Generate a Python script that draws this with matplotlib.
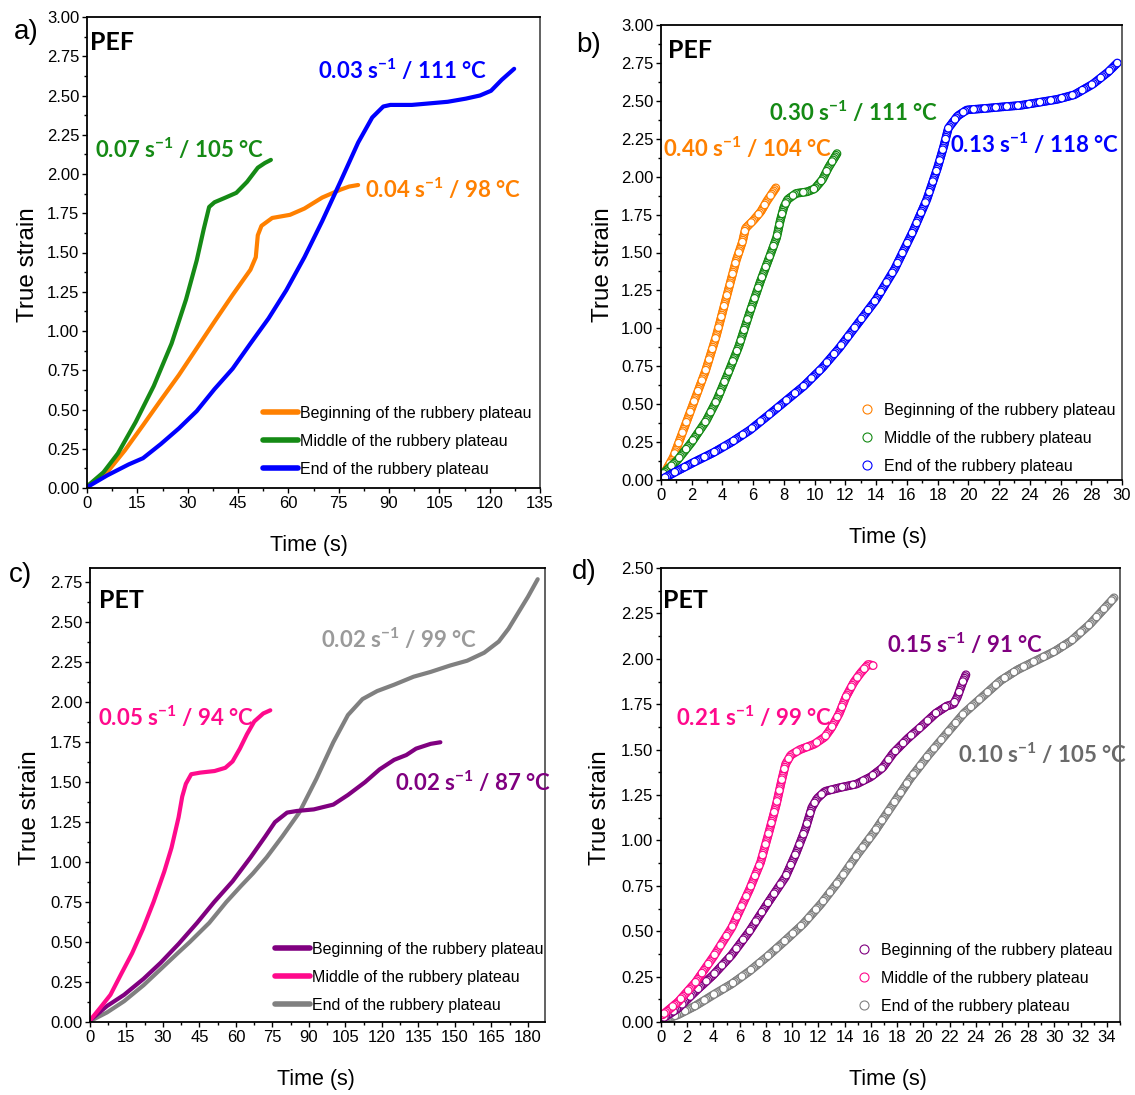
import matplotlib
matplotlib.use("Agg")
import matplotlib.pyplot as plt
from matplotlib.lines import Line2D
from matplotlib.ticker import MultipleLocator, FormatStrFormatter

plt.rcParams['lines.scale_dashes'] = False
plt.rcParams['mathtext.default'] = 'regular'

# ---------------- data ----------------
# a) PEF, continuous lines
a_beg_t = [0, 6, 11.3, 16.7, 22, 27.4, 32.7, 38, 43.4, 48.7, 50.3, 50.9, 52, 55.2, 60.5, 64.8, 70.1, 75.5, 78.1, 80.8]
a_beg_y = [0.01, 0.10, 0.24, 0.40, 0.56, 0.72, 0.89, 1.06, 1.23, 1.39, 1.47, 1.61, 1.67, 1.72, 1.74, 1.78, 1.85, 1.90, 1.92, 1.93]
a_mid_t = [0, 4.9, 9.2, 14.5, 19.9, 25.2, 29.5, 32.7, 34.8, 36.4, 38, 41.3, 44.5, 47.7, 50.9, 53, 54.8]
a_mid_y = [0.01, 0.10, 0.22, 0.42, 0.65, 0.92, 1.20, 1.45, 1.65, 1.79, 1.82, 1.85, 1.88, 1.95, 2.04, 2.07, 2.09]
a_end_t = [0, 6, 12.4, 16.7, 22, 27.4, 32.7, 38, 43.4, 48.7, 54.1, 59.4, 64.8, 70.1, 75.5, 80.8, 85,
           88.3, 90.4, 96.8, 102.2, 107.5, 112.9, 117.1, 120.4, 123.6, 127.3]
a_end_y = [0.005, 0.08, 0.15, 0.19, 0.28, 0.38, 0.49, 0.63, 0.76, 0.92, 1.08, 1.26, 1.47, 1.70, 1.95, 2.20, 2.36,
           2.43, 2.44, 2.44, 2.45, 2.46, 2.48, 2.50, 2.53, 2.60, 2.67]

# b) PEF, open circles
b_beg_t = [0.16, 0.8, 1.5, 2.2, 2.9, 3.6, 4.35, 4.9, 5.3, 5.5, 6.0, 6.5, 6.9, 7.5]
b_beg_y = [0.035, 0.15, 0.34, 0.53, 0.72, 0.95, 1.24, 1.45, 1.57, 1.66, 1.71, 1.77, 1.84, 1.93]
b_mid_t = [0.07, 1.06, 2.0, 2.94, 3.65, 4.35, 5.06, 5.76, 6.47, 7.06, 7.53, 7.76, 8.0, 8.24, 8.8, 9.5, 10.0, 10.5, 10.9, 11.5]
b_mid_y = [0.035, 0.13, 0.25, 0.39, 0.53, 0.70, 0.88, 1.10, 1.31, 1.47, 1.60, 1.71, 1.80, 1.85, 1.89, 1.90, 1.92, 1.98, 2.06, 2.16]
b_end_t = [0.16, 1.06, 2.2, 3.4, 4.6, 5.8, 6.9, 8.1, 9.3, 10.5, 11.6, 12.8, 14.0, 15.2, 16.4, 17.3, 18.0, 18.4,
           18.7, 19.3, 19.9, 21.1, 22.2, 23.4, 24.6, 25.8, 26.9, 28.1, 29.1, 29.7]
b_end_y = [0.01, 0.06, 0.12, 0.18, 0.25, 0.33, 0.42, 0.52, 0.62, 0.74, 0.87, 1.03, 1.19, 1.39, 1.64, 1.85, 2.06, 2.20,
           2.32, 2.40, 2.44, 2.45, 2.46, 2.47, 2.49, 2.51, 2.54, 2.61, 2.69, 2.75]

# c) PET, continuous lines
c_beg_t = [0, 7, 14, 22, 29, 36.5, 44, 51, 58.6, 66, 72, 76, 81, 85, 92, 100, 106, 113, 119, 125, 130, 134, 140, 144]
c_beg_y = [0.01, 0.10, 0.17, 0.27, 0.37, 0.49, 0.62, 0.75, 0.88, 1.03, 1.16, 1.25, 1.31, 1.32, 1.33, 1.36, 1.42,
           1.50, 1.58, 1.64, 1.67, 1.71, 1.74, 1.75]
c_mid_t = [0, 4, 8.4, 12.8, 17.3, 21.7, 26.1, 30.5, 33.5, 36.4, 37.9, 39.4, 41.6, 45.3, 51.2, 55.6, 58.6, 61.6,
           64.5, 67.5, 71.2, 74.1]
c_mid_y = [0.01, 0.085, 0.17, 0.30, 0.43, 0.58, 0.75, 0.94, 1.09, 1.28, 1.41, 1.49, 1.55, 1.56, 1.57, 1.59, 1.63,
           1.71, 1.80, 1.88, 1.93, 1.95]
c_end_t = [0, 7, 14, 22, 29, 36, 41, 49, 56, 62, 67, 72.6, 79, 86, 93, 100, 106, 112, 118, 125, 133, 140, 148,
           155, 162, 168, 172, 176, 180, 184]
c_end_y = [0.005, 0.06, 0.13, 0.23, 0.33, 0.43, 0.50, 0.62, 0.75, 0.85, 0.93, 1.03, 1.16, 1.31, 1.52, 1.75, 1.92,
           2.02, 2.07, 2.11, 2.16, 2.19, 2.23, 2.26, 2.31, 2.38, 2.46, 2.56, 2.66, 2.77]

# d) PET, open circles
d_beg_t = [0.14, 1.3, 2.65, 4.0, 5.4, 6.75, 8.1, 9.5, 10.3, 11.0, 11.5, 11.9, 12.5, 13.6, 14.9, 16.0, 16.9, 17.7,
           18.8, 19.9, 20.95, 21.8, 22.3, 22.6, 23.0, 23.3]
d_beg_y = [0.02, 0.075, 0.17, 0.26, 0.37, 0.50, 0.65, 0.80, 0.93, 1.06, 1.18, 1.23, 1.27, 1.29, 1.31, 1.35, 1.40,
           1.48, 1.56, 1.63, 1.70, 1.74, 1.75, 1.79, 1.87, 1.92]
d_mid_t = [0.14, 1.3, 2.65, 4.0, 5.4, 6.75, 7.6, 8.25, 8.8, 9.2, 9.5, 9.9, 10.6, 11.7, 12.5, 13.0, 13.6, 14.1,
           14.7, 15.2, 15.8, 16.3]
d_mid_y = [0.04, 0.11, 0.22, 0.36, 0.52, 0.73, 0.88, 1.05, 1.20, 1.33, 1.42, 1.47, 1.50, 1.53, 1.57, 1.62, 1.70,
           1.79, 1.87, 1.92, 1.97, 1.96]
d_end_t = [0.14, 1.3, 2.65, 4.0, 5.4, 6.75, 8.1, 9.5, 10.85, 12.2, 13.6, 14.95, 16.3, 17.7, 19.0, 20.4, 21.8,
           23.1, 24.5, 25.9, 27.2, 28.6, 30.0, 31.3, 32.7, 34.1, 34.6]
d_end_y = [0.01, 0.04, 0.09, 0.15, 0.21, 0.28, 0.36, 0.45, 0.54, 0.65, 0.78, 0.92, 1.05, 1.20, 1.34, 1.47, 1.59,
           1.70, 1.79, 1.88, 1.94, 1.99, 2.04, 2.10, 2.19, 2.30, 2.34]

legend_labels = ['Beginning of the rubbery plateau', 'Middle of the rubbery plateau', 'End of the rubbery plateau']

W, H = 1135, 1095
ORANGE, GREEN, BLUE = '#FF8000', '#158A15', '#0000FF'
PINK, PURPLE, GRAY = '#FF0A8C', '#800080', '#808080'

SANS = ['Liberation Sans', 'DejaVu Sans']
BOLD = ['Lato', 'DejaVu Sans']


def fx(px):
    return px / W


def fy(py):
    return 1 - py / H


def make_axes(fig, left, top, right, bottom, xmax, ymax, xstep, ystep):
    ax = fig.add_axes([fx(left), fy(bottom), (right - left) / W, (bottom - top) / H])
    ax.set_xlim(0, xmax)
    ax.set_ylim(0, ymax)
    ax.xaxis.set_major_locator(MultipleLocator(xstep))
    ax.xaxis.set_minor_locator(MultipleLocator(xstep / 2))
    ax.yaxis.set_major_locator(MultipleLocator(ystep))
    ax.yaxis.set_minor_locator(MultipleLocator(ystep / 2))
    ax.yaxis.set_major_formatter(FormatStrFormatter('%.2f'))
    ax.tick_params(which='both', direction='out', top=False, right=False, width=1)
    ax.tick_params(which='major', length=3.5, labelsize=12, pad=2)
    ax.tick_params(which='minor', length=2)
    for lab in ax.get_xticklabels() + ax.get_yticklabels():
        lab.set_family(SANS)
    for s in ax.spines.values():
        s.set_linewidth(1.3)
    ax.spines['right'].set_color('#555555')
    return ax


def ring_curve(ax, t, y, color, period=8.0, groups=6):
    # open circles drawn as round dots along the curve, overlapping like dense markers
    for j in range(groups):
        off = j * period / groups
        ls = (off, (0.01, period - 0.01))
        ax.plot(t, y, color=color, lw=6.4, ls=ls, dash_capstyle='round')
        ax.plot(t, y, color='white', lw=4.6, ls=ls, dash_capstyle='round')


def note(px, py, s, color):
    plt.gcf().text(fx(px), fy(py), s, color=color, fontsize=16, fontweight='bold',
                   family=BOLD, ha='left', va='baseline')


def labels(ax, letter, lx, ly, mat, mx, my, ylx, yly, xlx, xly):
    fig = plt.gcf()
    fig.text(fx(lx), fy(ly), letter, fontsize=20, family=SANS, ha='left', va='center')
    fig.text(fx(mx), fy(my), mat, fontsize=18, fontweight='bold', family=BOLD, ha='left', va='center')
    fig.text(fx(ylx), fy(yly), 'True strain', fontsize=17.5, rotation=90,
             family=SANS, ha='center', va='center')
    fig.text(fx(xlx), fy(xly), 'Time (s)', fontsize=15.5, family=SANS, ha='center', va='center')


def add_legend(ax, handles, px, py, hl, tp):
    ax.legend(handles, legend_labels, loc='upper left', bbox_to_anchor=(fx(px), fy(py)),
              bbox_transform=plt.gcf().transFigure, frameon=False, borderpad=0,
              handlelength=hl, handletextpad=tp, labelspacing=0.8,
              prop={'family': SANS, 'size': 11.5})


fig = plt.figure(figsize=(W / 100, H / 100), dpi=100)

# ---- a) ----
ax = make_axes(fig, 87, 17, 540, 488, 135, 3.0, 15, 0.25)
ax.plot(a_beg_t, a_beg_y, color=ORANGE, lw=3, solid_capstyle='round')
ax.plot(a_mid_t, a_mid_y, color=GREEN, lw=3, solid_capstyle='round')
ax.plot(a_end_t, a_end_y, color=BLUE, lw=3, solid_capstyle='round')
hs = [Line2D([], [], color=c, lw=4, solid_capstyle='round') for c in (ORANGE, GREEN, BLUE)]
add_legend(ax, hs, 255, 398, 2.2, 0.1)
labels(ax, 'a)', 14, 32, 'PEF', 90, 42, 28, 265, 309, 546)
note(95, 158, r'0.07 s$^{-1}$ / 105 °C', GREEN)
note(365, 198, r'0.04 s$^{-1}$ / 98 °C', ORANGE)
note(318, 79, r'0.03 s$^{-1}$ / 111 °C', BLUE)

# ---- b) ----
ax = make_axes(fig, 661, 25, 1122, 480, 30, 3.0, 2, 0.25)
ring_curve(ax, b_beg_t, b_beg_y, ORANGE)
ring_curve(ax, b_mid_t, b_mid_y, GREEN)
ring_curve(ax, b_end_t, b_end_y, BLUE)
hs = [Line2D([], [], ls='none', marker='o', ms=6.5, mfc='none', mec=c, mew=0.8) for c in (ORANGE, GREEN, BLUE)]
add_legend(ax, hs, 847, 395, 1.5, 0.3)
labels(ax, 'b)', 576, 45, 'PEF', 668, 50, 603, 265, 888, 537)
note(663, 157, r'0.40 s$^{-1}$ / 104 °C', ORANGE)
note(769, 121, r'0.30 s$^{-1}$ / 111 °C', GREEN)
note(950, 153, r'0.13 s$^{-1}$ / 118 °C', BLUE)

# ---- c) ----
ax = make_axes(fig, 90, 568, 545, 1022, 187, 2.84, 15, 0.25)
ax.plot(c_end_t, c_end_y, color=GRAY, lw=3, solid_capstyle='round')
ax.plot(c_beg_t, c_beg_y, color=PURPLE, lw=3, solid_capstyle='round')
ax.plot(c_mid_t, c_mid_y, color=PINK, lw=3, solid_capstyle='round')
hs = [Line2D([], [], color=c, lw=4, solid_capstyle='round') for c in (PURPLE, PINK, GRAY)]
add_legend(ax, hs, 267, 934, 2.2, 0.1)
labels(ax, 'c)', 9, 575, 'PET', 99, 600, 30, 808, 316, 1080)
note(98, 726, r'0.05 s$^{-1}$ / 94 °C', PINK)
note(321, 648, r'0.02 s$^{-1}$ / 99 °C', '#9A9A9A')
note(395, 791, r'0.02 s$^{-1}$ / 87 °C', PURPLE)

# ---- d) ----
ax = make_axes(fig, 661, 568, 1120, 1022, 35, 2.5, 2, 0.25)
ring_curve(ax, d_end_t, d_end_y, GRAY)
ring_curve(ax, d_beg_t, d_beg_y, PURPLE)
ring_curve(ax, d_mid_t, d_mid_y, PINK)
hs = [Line2D([], [], ls='none', marker='o', ms=6.5, mfc='none', mec=c, mew=0.8) for c in (PURPLE, PINK, GRAY)]
add_legend(ax, hs, 844, 935, 1.5, 0.3)
labels(ax, 'd)', 572, 572, 'PET', 663, 600, 600, 808, 888, 1080)
note(676, 726, r'0.21 s$^{-1}$ / 99 °C', PINK)
note(887, 653, r'0.15 s$^{-1}$ / 91 °C', PURPLE)
note(958, 763, r'0.10 s$^{-1}$ / 105 °C', '#6A6A6A')

fig.savefig('out.png', dpi=100)
